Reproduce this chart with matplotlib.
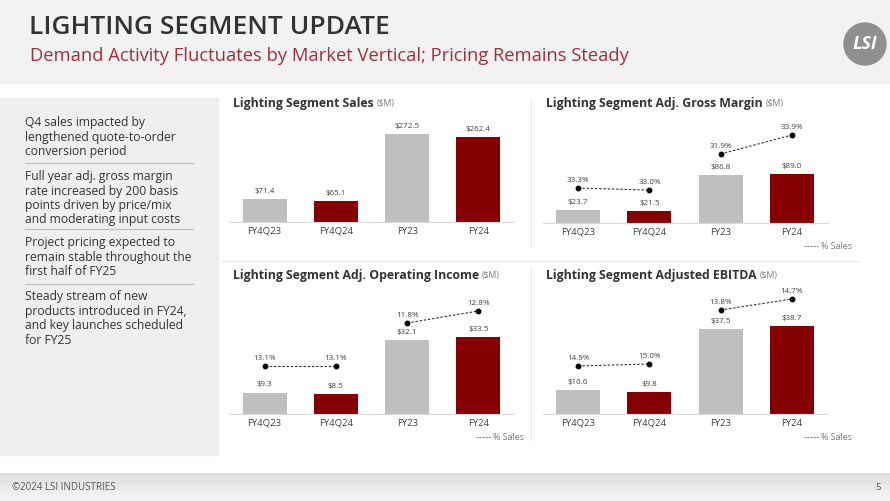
import numpy as np
import matplotlib
matplotlib.use("Agg")
import matplotlib.pyplot as plt
from matplotlib.patches import Rectangle, Circle
from matplotlib.lines import Line2D

plt.rcParams["font.family"] = ["Open Sans", "DejaVu Sans"]

categories = ["FY4Q23", "FY4Q24", "FY23", "FY24"]
sales = [71.4, 65.1, 272.5, 262.4]
gross_margin = [23.7, 21.5, 86.8, 89.0]
gross_margin_pct = [33.3, 33.0, 31.9, 33.9]
op_income = [9.3, 8.5, 32.1, 33.5]
op_income_pct = [13.1, 13.1, 11.8, 12.8]
ebitda = [10.6, 9.8, 37.5, 38.7]
ebitda_pct = [14.9, 15.0, 13.8, 14.7]

bullets = [
    "Q4 sales impacted by\nlengthened quote-to-order\nconversion period",
    "Full year adj. gross margin\nrate increased by 200 basis\npoints driven by price/mix\nand moderating input costs",
    "Project pricing expected to\nremain stable throughout the\nfirst half of FY25",
    "Steady stream of new\nproducts introduced in FY24,\nand key launches scheduled\nfor FY25",
]

GRAY = "#bfbfbf"
RED = "#850000"
TXT = "#404040"

W, H = 890, 501
fig = plt.figure(figsize=(W / 100, H / 100), dpi=100)
fig.patch.set_facecolor("white")

bg = fig.add_axes([0, 0, 1, 1])
bg.set_xlim(0, W)
bg.set_ylim(H, 0)
bg.axis("off")

# header
bg.add_patch(Rectangle((0, 0), W, 83, color="#f2f2f2", zorder=0))
bg.text(29, 27, "LIGHTING SEGMENT UPDATE", fontsize=19, color="#333333",
        va="center", ha="left", fontweight="semibold")
bg.text(30, 56, "Demand Activity Fluctuates by Market Vertical; Pricing Remains Steady",
        fontsize=13.2, color="#a0303a", va="center", ha="left")
bg.add_patch(Circle((865, 44), 21, color="#8f8f8f", zorder=2))
bg.text(865, 44, "LSI", color="white", fontsize=13, fontweight="bold", style="italic",
        ha="center", va="center", zorder=3)

# left panel
bg.add_patch(Rectangle((0, 98), 218, 357, color="#efefef", zorder=0))
block_tops = [116, 170, 236, 290]
for top, txt in zip(block_tops, bullets):
    bg.text(25, top, txt, fontsize=8.7, color="#333333", va="top", ha="left",
            linespacing=1.15)
for y in [163, 229, 284]:
    bg.plot([25, 193], [y, y], color="#bdbdbd", lw=0.8)

# separators between charts
bg.plot([531, 531], [100, 247], color="#e6e6e6", lw=0.8)
bg.plot([531, 531], [268, 440], color="#e6e6e6", lw=0.8)
bg.plot([222, 858], [261, 261], color="#e6e6e6", lw=0.8)

# footer
grad = np.linspace(0.86, 0.97, 50)[:, None] * np.ones((50, 2))
bg.imshow(grad, cmap="gray", vmin=0, vmax=1, extent=[0, W, H, 473], aspect="auto", zorder=0)
bg.text(12, 487, "©2024 LSI INDUSTRIES", fontsize=7, color="#555555", va="center")
bg.text(878, 487, "5", fontsize=6.8, color="#555555", va="center", ha="center")
bg.set_xlim(0, W)
bg.set_ylim(H, 0)


def px_axes(x0, y0, x1, y1):
    return fig.add_axes([x0 / W, 1 - y1 / H, (x1 - x0) / W, (y1 - y0) / H])


def draw_chart(x0, top, baseline, values, px_per_unit, title, pct=None, pct_map=None,
               legend_xy=None):
    ax = px_axes(x0, top, x0 + 285, baseline)
    ax.set_facecolor("none")
    x = np.arange(len(values))
    ax.bar(x, values, width=0.62, color=[GRAY, RED, GRAY, RED], zorder=2)
    ax.set_xlim(-0.5, 3.5)
    ax.set_ylim(0, (baseline - top) / px_per_unit)
    for i, v in enumerate(values):
        ax.annotate(f"${v:.1f}", (i, v), xytext=(0, 3), textcoords="offset points",
                    ha="center", va="bottom", fontsize=5.8, color=TXT)
    for s in ["top", "left", "right"]:
        ax.spines[s].set_visible(False)
    ax.spines["bottom"].set_color("#d9d9d9")
    ax.spines["bottom"].set_linewidth(0.8)
    ax.set_yticks([])
    ax.set_xticks(x)
    ax.set_xticklabels(categories, fontsize=6.8, color=TXT)
    ax.tick_params(axis="x", length=0, pad=3.5)

    t = bg.text(x0 + 4, top - 15, title, fontsize=8.8, fontweight="bold", color="#333333",
                va="center", ha="left")
    bg.annotate("($M)", xy=(1, 0.45), xycoords=t, xytext=(2, 0), textcoords="offset points",
                fontsize=6.2, color="#777777", va="center", ha="left")

    if pct is not None:
        hpx = baseline - top
        for idx, (v0, h0, k) in zip([[0, 1], [2, 3]], pct_map):
            tw = ax.twinx()
            lo = v0 - h0 / k
            tw.set_ylim(lo, lo + hpx / k)
            tw.set_xlim(-0.5, 3.5)
            tw.axis("off")
            xs = idx
            ys = [pct[j] for j in idx]
            tw.plot(xs, ys, color="#333333", lw=0.8, dashes=(2.2, 1.6), marker="o",
                    markersize=3.2, markerfacecolor="black", markeredgecolor="black", zorder=3)
            for xi, yi in zip(xs, ys):
                tw.annotate(f"{yi:.1f}%", (xi, yi), xytext=(0, 3), textcoords="offset points",
                            ha="center", va="bottom", fontsize=5.8, color=TXT)
    if legend_xy is not None:
        lx, ly = legend_xy
        bg.add_line(Line2D([lx, lx + 14], [ly, ly], color="#777777", lw=0.7, dashes=(2, 1.2)))
        bg.text(lx + 17, ly, "% Sales", fontsize=6.4, color="#777777", va="center", ha="left")


draw_chart(229, 118, 222, sales, 88 / 272.5, "Lighting Segment Sales")
draw_chart(542.5, 118, 223, gross_margin, 48 / 86.8, "Lighting Segment Adj. Gross Margin",
           pct=gross_margin_pct, pct_map=[(33.3, 35, 7), (31.9, 69, 9.5)],
           legend_xy=(804, 246))
draw_chart(229, 290, 414, op_income, 77 / 33.5, "Lighting Segment Adj. Operating Income",
           pct=op_income_pct, pct_map=[(13.1, 48, 8), (11.8, 91, 12)],
           legend_xy=(476, 437))
draw_chart(542.5, 290, 414, ebitda, 88 / 38.7, "Lighting Segment Adjusted EBITDA",
           pct=ebitda_pct, pct_map=[(14.9, 48, 20), (13.8, 104, 12.2)],
           legend_xy=(804, 437))

fig.savefig("out.png", dpi=100)
